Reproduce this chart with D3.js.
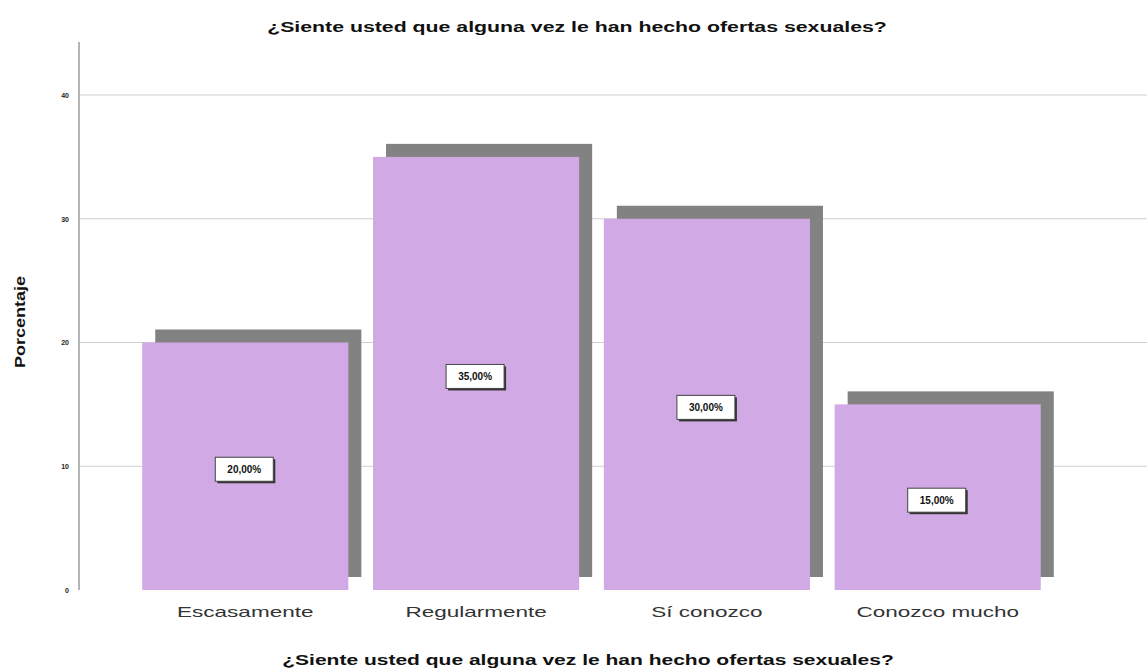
<!DOCTYPE html>
<html>
<head>
<meta charset="utf-8">
<script src="https://cdn.jsdelivr.net/npm/d3@7"></script>
<style>
  body { margin: 0; background: #fff; }
  text { font-family: "Liberation Sans", Arial, sans-serif; }
</style>
</head>
<body>
<div id="chart"></div>
<script>
// data
var categories = ["Escasamente", "Regularmente", "Sí conozco", "Conozco mucho"];
var values     = [20, 35, 30, 15];
var labels     = ["20,00%", "35,00%", "30,00%", "15,00%"];
var y_ticks    = [0, 10, 20, 30, 40];

const chart_width = 1147, chart_height = 669;
const shadow = 13;

var svg = d3.select("#chart")
	.append("svg")
	.attr("width", chart_width)
	.attr("height", chart_height);

// stretch a text to look like the wide original font
function stretch(sel, factor) {
	sel.each(function () {
		var w = this.getComputedTextLength();
		d3.select(this)
			.attr("textLength", w * factor)
			.attr("lengthAdjust", "spacingAndGlyphs");
	});
}

// scales
const x_scale = d3.scaleBand()
	.domain(categories)
	.range([130, 1053])
	.paddingInner(0.107)
	.paddingOuter(0.053);

const y_scale = d3.scaleLinear()
	.domain([0, 40])
	.range([590, 95]);

// gridlines
svg.append("g")
	.selectAll("line")
	.data(y_ticks.slice(1))
	.enter()
	.append("line")
	.attr("x1", 79)
	.attr("x2", chart_width)
	.attr("y1", d => y_scale(d))
	.attr("y2", d => y_scale(d))
	.attr("stroke", "#cfcfcf")
	.attr("stroke-width", 1);

// y axis
var y_axis = svg.append("g")
	.attr("transform", "translate(79,0)")
	.call(d3.axisLeft(y_scale).tickValues(y_ticks).tickSize(0).tickPadding(10));
y_axis.select(".domain").remove();
y_axis.selectAll("text")
	.attr("font-size", 7)
	.attr("font-weight", "bold")
	.style("fill", "#222");

svg.append("line")
	.attr("x1", 79).attr("x2", 79)
	.attr("y1", 42).attr("y2", 590)
	.attr("stroke", "#b5b5b5")
	.attr("stroke-width", 2);

// shadows
svg.selectAll(".shadow")
	.data(values)
	.enter()
	.append("rect")
	.attr("class", "shadow")
	.attr("x", (d, i) => x_scale(categories[i]) + shadow)
	.attr("y", d => y_scale(d) - shadow)
	.attr("width", x_scale.bandwidth())
	.attr("height", d => y_scale(0) - y_scale(d))
	.attr("fill", "#828282");

// bars
svg.selectAll(".bar")
	.data(values)
	.enter()
	.append("rect")
	.attr("class", "bar")
	.attr("x", (d, i) => x_scale(categories[i]))
	.attr("y", d => y_scale(d))
	.attr("width", x_scale.bandwidth())
	.attr("height", d => y_scale(0) - y_scale(d))
	.attr("fill", "#d1a9e4");

// value labels
var lab = svg.selectAll(".lab")
	.data(values)
	.enter()
	.append("g")
	.attr("class", "lab")
	.attr("transform", (d, i) => "translate(" + (x_scale(categories[i]) + x_scale.bandwidth() / 2) + "," + ((y_scale(d) + y_scale(0)) / 2 + 4) + ")");

lab.append("rect")
	.attr("x", -28).attr("y", -11)
	.attr("width", 58).attr("height", 24)
	.attr("fill", "#333");
lab.append("rect")
	.attr("x", -30).attr("y", -13)
	.attr("width", 58).attr("height", 24)
	.attr("fill", "#fff")
	.attr("stroke", "#444")
	.attr("stroke-width", 1);
lab.append("text")
	.text((d, i) => labels[i])
	.attr("x", -1)
	.attr("y", 3)
	.attr("text-anchor", "middle")
	.attr("font-size", 10)
	.attr("font-weight", "bold")
	.attr("fill", "#111");

// category labels
svg.selectAll(".cat")
	.data(categories)
	.enter()
	.append("text")
	.attr("class", "cat")
	.text(d => d)
	.attr("x", d => x_scale(d) + x_scale.bandwidth() / 2)
	.attr("y", 617)
	.attr("text-anchor", "middle")
	.attr("font-size", 15)
	.attr("fill", "#333")
	.call(stretch, 1.5);

// titles
svg.append("text")
	.text("¿Siente usted que alguna vez le han hecho ofertas sexuales?")
	.attr("x", 577).attr("y", 32)
	.attr("text-anchor", "middle")
	.attr("font-size", 14)
	.attr("font-weight", "bold")
	.attr("fill", "#111")
	.call(stretch, 1.52);

svg.append("text")
	.text("¿Siente usted que alguna vez le han hecho ofertas sexuales?")
	.attr("x", 588).attr("y", 665)
	.attr("text-anchor", "middle")
	.attr("font-size", 15)
	.attr("font-weight", "bold")
	.attr("fill", "#111")
	.call(stretch, 1.4);

svg.append("text")
	.text("Porcentaje")
	.attr("transform", "translate(25,322) rotate(-90)")
	.attr("text-anchor", "middle")
	.attr("font-size", 15)
	.attr("font-weight", "bold")
	.attr("fill", "#111")
	.call(stretch, 1.2);
</script>
</body>
</html>
